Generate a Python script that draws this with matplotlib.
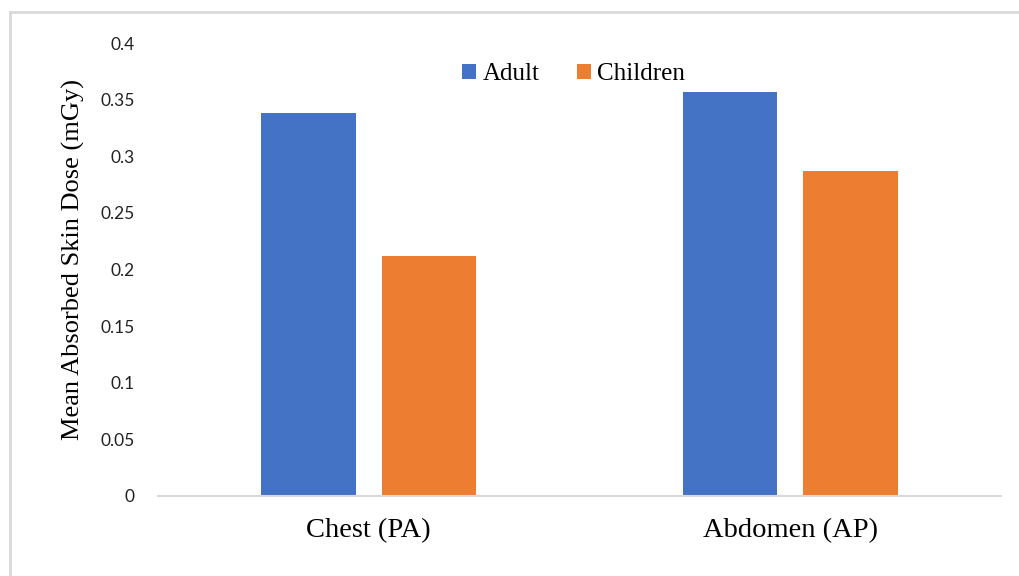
import matplotlib.pyplot as plt
from matplotlib.lines import Line2D
import numpy as np

categorias = ['Chest (PA)', 'Abdomen (AP)']
adultos = [0.338, 0.357]
ninos = [0.212, 0.287]
series = ['Adult', 'Children']
ticks_y = [0, 0.05, 0.1, 0.15, 0.2, 0.25, 0.3, 0.35, 0.4]
etiquetas_y = ['0', '0.05', '0.1', '0.15', '0.2', '0.25', '0.3', '0.35', '0.4']

azul = '#4472C4'
naranja = '#ED7D31'

fig = plt.figure(figsize=(10.2, 5.76), dpi=100)
ax = fig.add_axes([0.1549, 0.1389, 0.8265, 0.7864])

x = np.arange(len(categorias))
ancho = 0.225
ax.bar(x - 0.143, adultos, ancho, color=azul, label=series[0])
ax.bar(x + 0.143, ninos, ancho, color=naranja, label=series[1])

ax.set_xlim(-0.5, 1.5)
ax.set_ylim(0, 0.4)
ax.set_yticks(ticks_y)
ax.set_yticklabels(etiquetas_y, fontfamily='Lato', fontsize=12.5, color='#222222')
ax.set_xticks(x)
ax.set_xticklabels(categorias, fontfamily='Liberation Serif', fontsize=20.5)
ax.tick_params(axis='both', length=0)
ax.tick_params(axis='y', pad=17)
ax.tick_params(axis='x', pad=16)

for lado in ['top', 'right', 'left']:
    ax.spines[lado].set_visible(False)
ax.spines['bottom'].set_color('#D9D9D9')
ax.spines['bottom'].set_linewidth(1.5)

ax.set_ylabel('Mean Absorbed Skin Dose (mGy)', fontfamily='Liberation Serif', fontsize=19)
ax.yaxis.set_label_coords(-0.086, 0.523)

ax.legend(loc='upper center', bbox_to_anchor=(0.493, 1.005), ncol=2, frameon=False,
          prop={'family': 'Liberation Serif', 'size': 18}, handlelength=0.55,
          handleheight=0.55, handletextpad=0.25, columnspacing=1.5)

# marco gris de la imagen
fig.add_artist(Line2D([10/1020, 1], [1 - 12/576, 1 - 12/576], color='#D9D9D9', lw=2))
fig.add_artist(Line2D([10/1020, 10/1020], [0, 1 - 12/576], color='#D9D9D9', lw=2))

fig.savefig('out.png', dpi=100)
